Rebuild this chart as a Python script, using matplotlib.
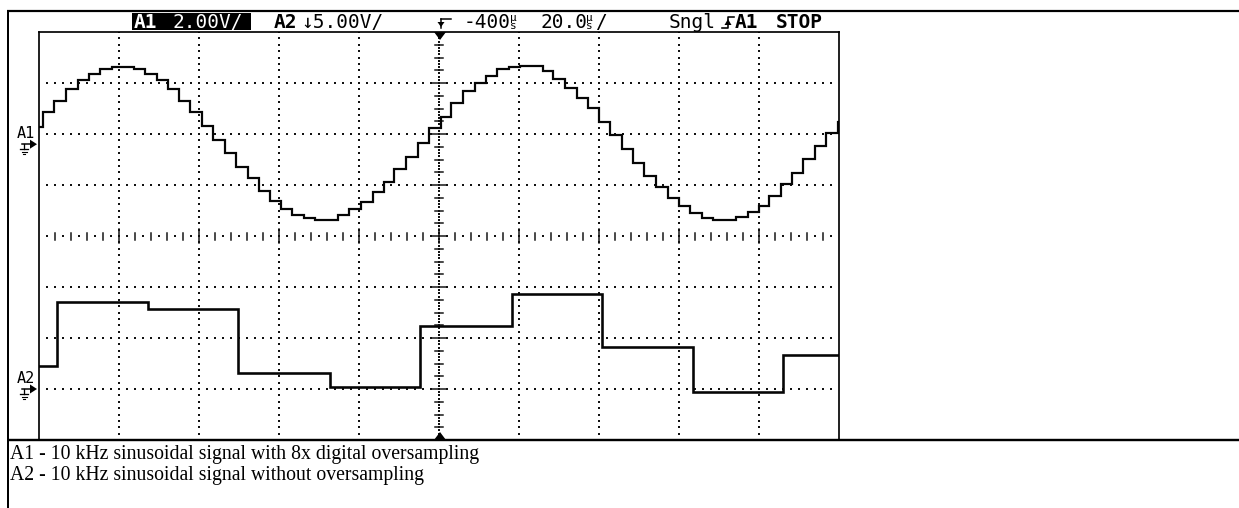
import numpy as np
import matplotlib
matplotlib.use("Agg")
import matplotlib.pyplot as plt

# ---------------- data ----------------
# time in µs from the left edge of the screen (20 µs/div, 10 divisions)
a1_t = [0.0, 1.0, 3.75, 6.75, 9.75, 12.5, 15.25, 18.25, 21.0, 23.75,
        26.5, 29.5, 32.25, 35.0, 37.75, 40.75, 43.5, 46.5, 49.25, 52.25,
        55.0, 57.75, 60.5, 63.25, 66.25, 69.0, 72.0, 74.75, 77.5, 80.5,
        83.5, 86.25, 88.75, 91.75, 94.75, 97.5, 100.5, 103.0, 106.0, 109.0,
        111.75, 114.5, 117.5, 120.25, 123.25, 126.0, 128.5, 131.5, 134.5, 137.25,
        140.0, 142.75, 145.75, 148.5, 151.25, 154.25, 157.25, 160.0, 162.75, 165.75,
        168.5, 171.25, 174.25, 177.25, 180.0, 182.5, 185.5, 188.25, 191.0, 194.0,
        196.75, 199.75]
# A1 volts (2.00 V/div), 8x oversampled staircase
a1_v = [0.67, 1.26, 1.71, 2.16, 2.52, 2.75, 2.95, 3.04, 3.04, 2.95,
        2.75, 2.52, 2.16, 1.69, 1.26, 0.71, 0.16, -0.35, -0.89, -1.33,
        -1.84, -2.22, -2.54, -2.78, -2.89, -2.97, -2.97, -2.78, -2.54, -2.27,
        -1.87, -1.48, -0.97, -0.50, 0.05, 0.64, 1.07, 1.62, 2.09, 2.40,
        2.69, 2.95, 3.03, 3.05, 3.05, 2.87, 2.56, 2.20, 1.81, 1.42,
        0.87, 0.36, -0.19, -0.72, -1.25, -1.68, -2.11, -2.42, -2.70, -2.89,
        -2.97, -2.97, -2.85, -2.66, -2.42, -2.03, -1.56, -1.13, -0.58, -0.07,
        0.44, 0.87]
# A2 volts (5.00 V/div), no oversampling
a2_t = [0.0, 4.5, 27.25, 49.75, 72.75, 95.25, 118.25, 140.75, 163.5, 186.0]
a2_v = [2.25, 8.53, 7.84, 1.57, 0.20, 6.18, 9.31, 4.12, -0.29, 3.33]
t_end = 200.0

a1_scale = 2.0     # V/div
a2_scale = 5.0     # V/div
a1_ground = 1.8    # divisions above screen centre
a2_ground = -3.0

caption = ["A1 - 10 kHz sinusoidal signal with 8x digital oversampling",
           "A2 - 10 kHz sinusoidal signal without oversampling"]

# ---------------- figure ----------------
W, H = 1239, 508
fig = plt.figure(figsize=(W / 100, H / 100), dpi=100, facecolor="white")
PX = 0.72  # points per pixel

# scope screen axes: pixels x 39..839, y 32..440
ax = fig.add_axes([39 / W, (H - 440) / H, 800 / W, 408 / H], zorder=2)
ax.set_xlim(0, 200)
ax.set_ylim(-4, 4)
ax.set_xticks([])
ax.set_yticks([])
ax.patch.set_alpha(0)
for s in ("left", "top", "right"):
    ax.spines[s].set_linewidth(1.7 * PX)
ax.spines["bottom"].set_visible(False)

dot = dict(ls="none", marker="s", ms=1.5, mew=0, color="#111111")
# dotted grid
for k in range(1, 10):
    if k == 5:
        continue
    ys = np.arange(-4, 4.001, 1 / 8)
    ax.plot(np.full_like(ys, 20 * k), ys, **dot)
for j in range(-3, 4):
    if j == 0:
        continue
    xs = np.arange(2, 200, 2)
    ax.plot(xs, np.full_like(xs, j, dtype=float), **dot)

# centre horizontal axis with ticks
xs_dot = np.arange(2, 200, 4)
ax.plot(xs_dot, np.zeros_like(xs_dot, dtype=float), **dot)
for x in np.arange(4, 200, 4):
    major = abs(x / 20 - round(x / 20)) < 1e-6
    h = 7 if major else 3.5
    ax.plot([x, x], [-h / 51, h / 51], color="#111111", lw=1.5 * PX)
# centre vertical axis with ticks
ys_dot = np.arange(-4, 4.001, 1 / 16)
ax.plot(np.full_like(ys_dot, 100), ys_dot, **dot)
for y in np.arange(-3.75, 3.8, 0.25):
    major = abs(y - round(y)) < 1e-6
    w = 8 if major else 4
    ax.plot([100 - w / 4, 100 + w / 4], [y, y], color="#111111", lw=1.5 * PX)

# traces
t1 = list(a1_t) + [t_end]
y1 = [a1_ground + v / a1_scale for v in a1_v]
y1 = y1 + [y1[-1]]
ax.step(t1, y1, where="post", color="#050505", lw=2.2 * PX, solid_joinstyle="miter")
t2 = list(a2_t) + [t_end]
y2 = [a2_ground + v / a2_scale for v in a2_v]
y2 = y2 + [y2[-1]]
ax.step(t2, y2, where="post", color="#050505", lw=2.6 * PX, solid_joinstyle="miter")

# ---------------- overlay in pixel coordinates ----------------
ov = fig.add_axes([0, 0, 1, 1], zorder=3)
ov.set_xlim(0, W)
ov.set_ylim(H, 0)
ov.axis("off")
ov.patch.set_alpha(0)

k = "black"
# table borders
ov.plot([7, W], [11, 11], color=k, lw=2.2 * PX, solid_capstyle="butt")
ov.plot([7, W], [440, 440], color=k, lw=2.4 * PX, solid_capstyle="butt")
ov.plot([7.5, 7.5], [10, H], color=k, lw=2.0 * PX, solid_capstyle="butt")

# trigger position markers
ov.fill([434, 446, 440], [32, 32, 40], color=k, lw=0)
ov.fill([434, 446, 440], [440, 440, 432], color=k, lw=0)

mono = "DejaVu Sans Mono"
fs = 14
# header
ov.add_patch(plt.Rectangle((132, 13), 118.5, 16.5, color=k, lw=0))
ov.text(134, 28.5, "A1", color="white", fontfamily=mono, fontweight="bold", fontsize=fs, va="baseline")
ov.text(172, 28.5, "2.00V/", color="white", fontfamily=mono, fontsize=fs, va="baseline")
ov.text(274, 28.5, "A2", color=k, fontfamily=mono, fontweight="bold", fontsize=fs, va="baseline")
ov.text(301, 28.5, "↓5.00V/", color=k, fontfamily=mono, fontsize=fs, va="baseline")
# trigger symbol
ov.plot([441, 451], [19, 19], color=k, lw=1.5 * PX)
ov.plot([441, 441], [19, 28], color=k, lw=1.5 * PX)
ov.fill([437.5, 444.5, 441], [22, 22, 27], color=k, lw=0)
ov.text(464, 28.5, "-400", color=k, fontfamily=mono, fontsize=fs, va="baseline")
ov.text(510, 21, "µ", color=k, fontfamily=mono, fontsize=8, va="baseline")
ov.text(510, 29, "s", color=k, fontfamily=mono, fontsize=8, va="baseline")
ov.text(540, 28.5, "20.0", color=k, fontfamily=mono, fontsize=fs, va="baseline")
ov.text(586, 21, "µ", color=k, fontfamily=mono, fontsize=8, va="baseline")
ov.text(586, 29, "s", color=k, fontfamily=mono, fontsize=8, va="baseline")
ov.text(595, 28.5, "/", color=k, fontfamily=mono, fontsize=fs, va="baseline")
ov.text(669, 28.5, "Sngl", color=k, fontfamily=mono, fontsize=fs, va="baseline")
# rising-edge symbol
ov.plot([722, 728, 728, 734], [28, 28, 17, 17], color=k, lw=1.6 * PX)
ov.fill([724.5, 731.5, 728], [25, 25, 19], color=k, lw=0)
ov.text(735, 28.5, "A1", color=k, fontfamily=mono, fontweight="bold", fontsize=fs, va="baseline")
ov.text(776, 28.5, "STOP", color=k, fontfamily=mono, fontweight="bold", fontsize=fs, va="baseline")


def ground_mark(label, yc):
    ov.text(17, yc - 6, label, color=k, fontfamily=mono, fontsize=11, va="baseline")
    ov.plot([22, 31], [yc, yc], color=k, lw=1.5 * PX)
    ov.fill([30, 37, 30], [yc - 4.5, yc, yc + 4.5], color=k, lw=0)
    ov.plot([24, 24], [yc, yc + 5], color=k, lw=1.3 * PX)
    ov.plot([20, 28], [yc + 5, yc + 5], color=k, lw=1.3 * PX)
    ov.plot([21.5, 26.5], [yc + 7.5, yc + 7.5], color=k, lw=1.1 * PX)
    ov.plot([23, 25], [yc + 10, yc + 10], color=k, lw=1.1 * PX)


ground_mark("A1", 236 - a1_ground * 51)
ground_mark("A2", 236 - a2_ground * 51)

# caption below the screenshot
serif = ["Liberation Serif", "DejaVu Serif"]
for i, line in enumerate(caption):
    ov.text(10, 459 + 21 * i, line, color=k, fontfamily=serif, fontsize=14.2, va="baseline")

fig.savefig("out.png", dpi=100, facecolor="white")
